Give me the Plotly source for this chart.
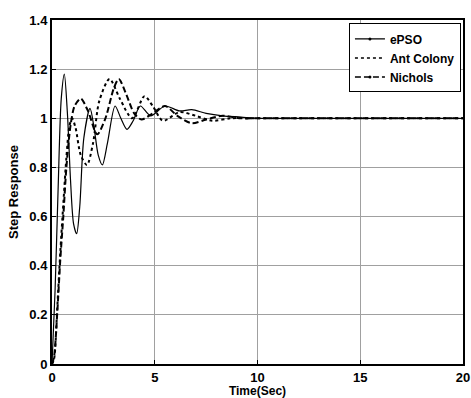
import plotly.graph_objects as go

# ePSO (solid)
epso_t = [0, 0.15, 0.3, 0.45, 0.6, 0.75, 0.9, 1.05, 1.2, 1.35, 1.55, 1.85, 2.05, 2.25, 2.45, 2.7, 3.07, 3.35, 3.65, 3.95, 4.3, 4.8, 5.5, 6.2, 6.8, 7.5, 8.3, 9.2, 10, 12, 15, 20]
epso_y = [0, 0.3, 0.72, 1.08, 1.18, 1.02, 0.75, 0.57, 0.53, 0.64, 0.92, 1.04, 0.96, 0.85, 0.81, 0.9, 1.05, 1.0, 0.955, 0.99, 1.05, 1.01, 1.05, 1.03, 1.035, 1.02, 1.01, 1.005, 1.0, 1.0, 1.0, 1.0]

# Ant Colony (dotted)
ant_t = [0, 0.1, 0.25, 0.4, 0.55, 0.7, 0.85, 0.98, 1.15, 1.4, 1.7, 2.0, 2.3, 2.8, 3.3, 3.9, 4.5, 4.9, 5.4, 6.2, 7.0, 7.8, 8.7, 10, 12, 15, 20]
ant_y = [0, 0.02, 0.22, 0.45, 0.65, 0.84, 0.97, 1.0, 0.96, 0.85, 0.81, 0.9, 1.07, 1.16, 1.08, 1.0, 1.09, 1.05, 0.99, 1.025, 1.01, 0.99, 1.0, 1.0, 1.0, 1.0, 1.0]

# Nichols (dashed)
nic_t = [0, 0.1, 0.25, 0.4, 0.55, 0.7, 0.9, 1.1, 1.4, 1.75, 2.2, 2.6, 3.0, 3.25, 3.6, 4.0, 4.35, 4.9, 5.5, 6.1, 6.8, 7.5, 8.3, 9.2, 10, 12, 15, 20]
nic_y = [0, 0.03, 0.2, 0.42, 0.6, 0.8, 0.97, 1.05, 1.08, 1.03, 0.935, 1.0, 1.12, 1.16, 1.1, 1.02, 0.995, 1.02, 1.05, 1.01, 0.98, 0.995, 1.01, 1.0, 1.0, 1.0, 1.0, 1.0]

x_ticks = [0, 5, 10, 15, 20]
y_ticks = [0, 0.2, 0.4, 0.6, 0.8, 1.0, 1.2, 1.4]
y_tick_labels = ["0", "0.2", "0.4", "0.6", "0.8", "1", "1.2", "1.4"]

FONT = "Arial, Liberation Sans, sans-serif"

fig = go.Figure()
fig.add_trace(go.Scatter(x=epso_t, y=epso_y, mode="lines", line=dict(color="black", width=1.2, shape="spline", smoothing=0.8), showlegend=False))
fig.add_trace(go.Scatter(x=ant_t, y=ant_y, mode="lines", line=dict(color="black", width=2, dash="dot", shape="spline", smoothing=0.8), showlegend=False))
fig.add_trace(go.Scatter(x=nic_t, y=nic_y, mode="lines", line=dict(color="black", width=2, dash="6px,3px", shape="spline", smoothing=0.8), showlegend=False))

# legend entries
fig.add_trace(go.Scatter(x=[None], y=[None], mode="lines+markers", name="ePSO", line=dict(color="black", width=1.2), marker=dict(size=3, color="black")))
fig.add_trace(go.Scatter(x=[None], y=[None], mode="lines", name="Ant Colony", line=dict(color="black", width=1.5, dash="dot")))
fig.add_trace(go.Scatter(x=[None], y=[None], mode="lines+markers", name="Nichols", line=dict(color="black", width=1.5, dash="6px,3px"), marker=dict(size=3, color="black")))

fig.update_layout(
    width=471, height=398,
    margin=dict(l=52, r=8, t=20, b=34),
    paper_bgcolor="white", plot_bgcolor="white",
    font=dict(family=FONT, size=12, color="black"),
    showlegend=True,
    legend=dict(x=0.995, y=0.99, xanchor="right", yanchor="top", bgcolor="white",
                bordercolor="black", borderwidth=1, font=dict(family=FONT, size=12, color="black", weight="bold"),
                tracegroupgap=0, itemwidth=30),
    xaxis=dict(range=[0, 20], tickvals=x_ticks, ticktext=["<b>%s</b>" % v for v in x_ticks],
               showgrid=True, gridcolor="#a0a0a0", gridwidth=1,
               showline=True, linecolor="black", linewidth=2, mirror=True,
               ticks="inside", ticklen=4, tickcolor="black", zeroline=False, automargin=False,
               tickfont=dict(family=FONT, size=13, color="black"),
               title=dict(text="<b>Time(Sec)</b>", font=dict(family=FONT, size=12, color="black"), standoff=0)),
    yaxis=dict(range=[0, 1.4], tickvals=y_ticks, ticktext=["<b>%s</b>" % s for s in y_tick_labels],
               showgrid=True, gridcolor="#a0a0a0", gridwidth=1,
               showline=True, linecolor="black", linewidth=2, mirror=True,
               ticks="inside", ticklen=4, tickcolor="black", zeroline=False, automargin=False,
               tickfont=dict(family=FONT, size=13, color="black"),
               title=dict(text="<b>Step Response</b>", font=dict(family=FONT, size=13, color="black"), standoff=8)),
)

fig.write_html("out.html", config={"displayModeBar": False},
               post_script="document.body.style.margin='0';document.body.style.overflow='hidden';")
